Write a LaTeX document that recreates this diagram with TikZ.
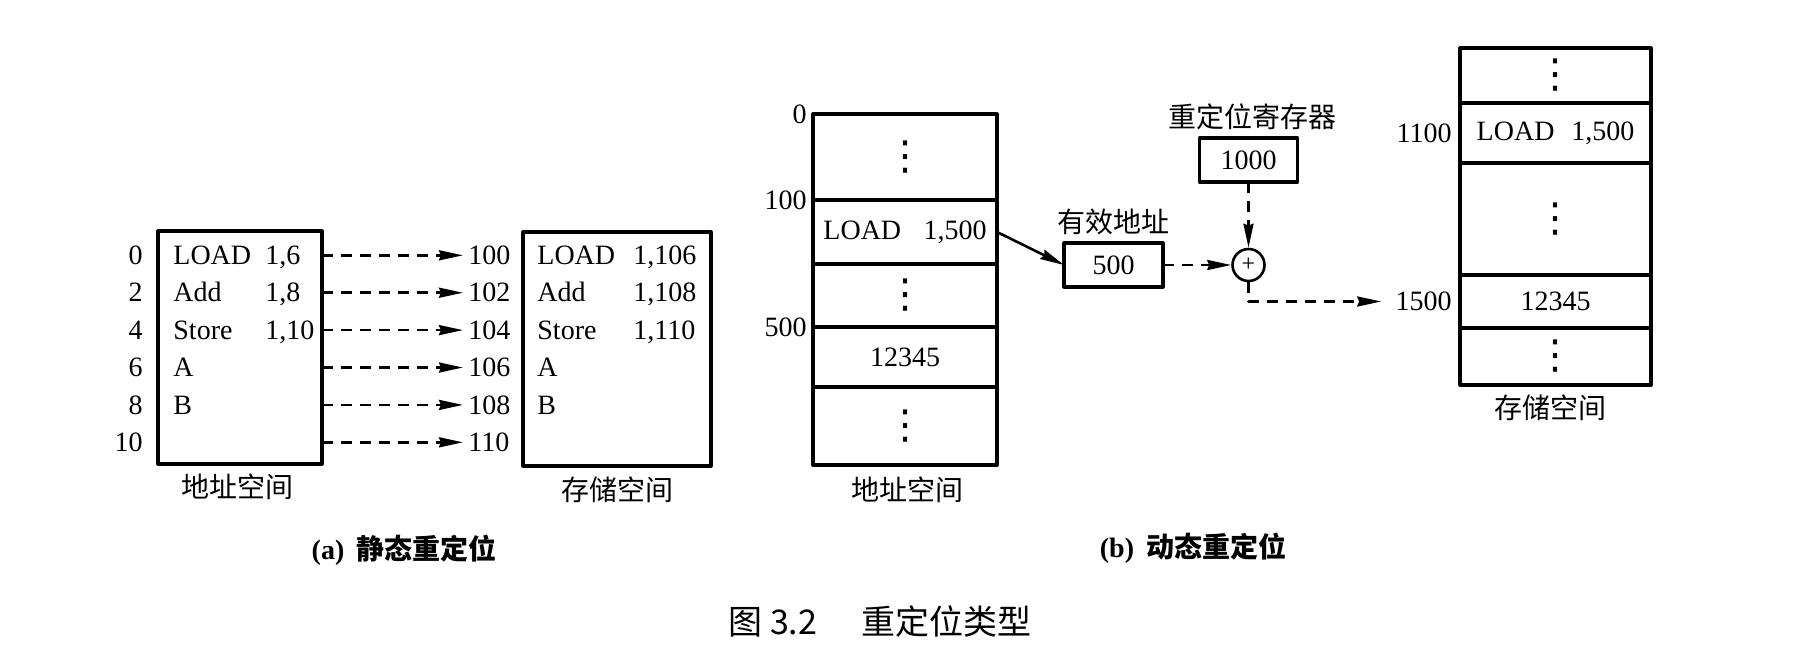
\documentclass[tikz,border=0pt]{standalone}
\usepackage{fontspec}
\setmainfont{Liberation Serif}
\newfontfamily\cjk{Noto Sans CJK SC}
\newfontfamily\symf{DejaVu Sans}
\usepackage{tikz}
\usetikzlibrary{arrows.meta}
\usetikzlibrary{positioning}
\newcommand\vdts{{\symf\fontsize{20pt}{22pt}\selectfont ⋮}}
\tikzset{memcell/.style={draw,line width=1.6pt,minimum width=92pt,inner sep=0pt,outer sep=0pt},
  membox/.style={draw,line width=1.6pt,inner sep=0pt,outer sep=0pt},
  addr/.style={inner sep=1pt},
  darrow/.style={line width=1.3pt,dash pattern=on 5.5pt off 4pt,-{Stealth[length=12pt,width=5pt,inset=1pt]}},
  sarrow/.style={line width=1.3pt,-{Stealth[length=12pt,width=5pt,inset=1pt]}},
  cjklbl/.style={font=\cjk\fontsize{14pt}{16pt}\selectfont}}

\begin{document}
\begin{tikzpicture}[x=0.5pt,y=-0.5pt,font=\fontsize{14pt}{16pt}\selectfont,line join=round]
\useasboundingbox (0,0) rectangle (1816,668);
% --- (a) static relocation
\node[membox,minimum width=82pt,minimum height=116.5pt] (va) at (240,347.5) {};
\node[membox,minimum width=94pt,minimum height=117pt] (pa) at (617,349) {};
\foreach \op/\vx/\px [count=\k from 0] in {{LOAD/1,6/1,106},{Add/1,8/1,108},{Store/1,10/1,110},{A//},{B//}} {
  \node[anchor=base west,inner sep=0pt] (vop\k) at (173,{264.5+37.4*\k}) {\op};
  \node[anchor=base west,inner sep=0pt] (varg\k) at (265,{264.5+37.4*\k}) {\vx};
  \node[anchor=base west,inner sep=0pt] (pop\k) at (537,{264.5+37.4*\k}) {\op};
  \node[anchor=base west,inner sep=0pt] (parg\k) at (633,{264.5+37.4*\k}) {\px};
}
\foreach \k in {0,...,5} {
  \pgfmathtruncatemacro\vn{2*\k}
  \pgfmathtruncatemacro\pn{100+2*\k}
  \node[addr,anchor=base east] (vn\k) at (145,{264.5+37.4*\k}) {\vn};
  \node[addr,anchor=base west] (pn\k) at (466,{264.5+37.4*\k}) {\pn};
  \draw[darrow,shorten >=1.5pt] (va.east |- pn\k) -- (pn\k);
}
\node[cjklbl] (vaname) at (237,487) {地址空间};
\node[cjklbl] (paname) at (617,490) {存储空间};
\node (capa) at (404,550) {\textbf{(a)}\hspace{6pt}{\cjk\bfseries 静态重定位}};
% --- (b) dynamic relocation: address space
\node[memcell,minimum height=43pt] (vb1) at (905,157) {\vdts};
\node[memcell,minimum height=32pt,below=0pt of vb1] (vb2) {LOAD\hspace{0.8em}1,500};
\node[memcell,minimum height=31.5pt,below=0pt of vb2] (vb3) {\vdts};
\node[memcell,minimum height=30pt,below=0pt of vb3] (vb4) {12345};
\node[memcell,minimum height=39pt,below=0pt of vb4] (vb5) {\vdts};
\node[addr,left=2pt of vb1.north west] (l0) {0};
\node[addr,left=2pt of vb2.north west] (l100) {100};
\node[addr,left=2pt of vb4.north west] (l500) {500};
\node[cjklbl] (vbname) at (907,490) {地址空间};
% --- effective address, relocation register, adder
\node[membox,minimum width=49.5pt,minimum height=22pt] (ea) at (1113.5,265) {500};
\node[cjklbl] (eaname) at (1113,222) {有效地址};
\node[membox,minimum width=49pt,minimum height=22pt] (reg) at (1248.5,160) {1000};
\node[cjklbl] (regname) at (1252,117) {重定位寄存器};
\node[circle,draw,line width=1.3pt,minimum size=16pt,inner sep=0pt] (plus) at (1248.5,265) {\fontsize{12pt}{12pt}\selectfont +};
% --- storage space
\node[memcell,minimum width=95.5pt,minimum height=27.5pt] (sb1) at (1555.5,75.5) {\vdts};
\node[memcell,minimum width=95.5pt,minimum height=30pt,below=0pt of sb1] (sb2) {LOAD\hspace{0.6em}1,500};
\node[memcell,minimum width=95.5pt,minimum height=56pt,below=0pt of sb2] (sb3) {\vdts};
\node[memcell,minimum width=95.5pt,minimum height=26.5pt,below=0pt of sb3] (sb4) {12345};
\node[memcell,minimum width=95.5pt,minimum height=28.5pt,below=0pt of sb4] (sb5) {\vdts};
\node[addr,left=3pt of sb2] (l1100) {1100};
\node[addr,left=3pt of sb4] (l1500) {1500};
\node[cjklbl] (sbname) at (1550,408) {存储空间};
\draw[sarrow] (vb2.east) -- (ea.west);
\draw[darrow] (ea) -- (plus);
\draw[darrow] (reg) -- (plus);
\draw[darrow,shorten >=6pt] (plus.south) |- (l1500);
\node (capb) at (1193,548) {\textbf{(b)}\hspace{6pt}{\cjk\bfseries 动态重定位}};
\node[font=\cjk\fontsize{17pt}{19pt}\selectfont] (fig) at (880,622) {图 3.2\hspace{1.3em}重定位类型};
\end{tikzpicture}
\end{document}
